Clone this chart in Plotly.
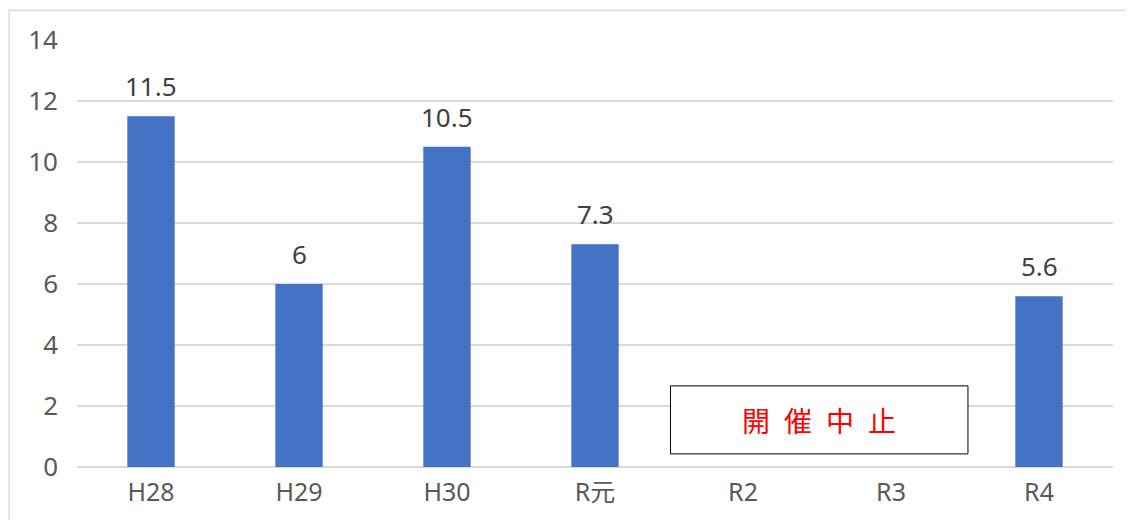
import plotly.graph_objects as go

categories = ["H28", "H29", "H30", "R元", "R2", "R3", "R4"]
values = [11.5, 6, 10.5, 7.3, None, None, 5.6]
y_ticks = [0, 2, 4, 6, 8, 10, 12, 14]
cancel_text = "開\u2002催\u2002中\u2002止"

FONT = "Noto Sans, Noto Sans CJK JP, sans-serif"

fig = go.Figure()
fig.add_trace(go.Bar(
    x=categories, y=values,
    marker=dict(color="#4472C4", line=dict(width=0)),
    width=0.32,
    hoverinfo="x+y",
))

for c, v in zip(categories, values):
    if v is None:
        continue
    fig.add_annotation(
        x=c, y=v, text=f"{v:g}", showarrow=False,
        yanchor="bottom", yshift=10,
        font=dict(family=FONT, size=26, color="#404040"),
    )

# cancellation box spanning R2-R3
fig.add_shape(type="rect", xref="x", yref="y",
              x0=3.51, x1=5.52, y0=0.43, y1=2.66,
              line=dict(color="#000000", width=1), fillcolor="white", layer="above")
fig.add_annotation(x=4.515, y=1.54, xref="x", yref="y", text=cancel_text,
                   showarrow=False, font=dict(family="Noto Sans CJK JP", size=28, color="#FF0000"))

# outer chart border
fig.add_shape(type="rect", xref="paper", yref="paper",
              x0=-0.0655, x1=1.2, y0=-0.3, y1=1.0695,
              line=dict(color="#D9D9D9", width=1.5), fillcolor="rgba(0,0,0,0)", layer="below")

fig.update_layout(
    width=1133, height=520,
    margin=dict(l=69, r=28, t=32, b=61),
    plot_bgcolor="white", paper_bgcolor="white",
    showlegend=False,
    font=dict(family=FONT, size=26, color="#595959"),
)
fig.update_xaxes(
    type="category", categoryorder="array", categoryarray=categories,
    range=[-0.5, 6.5], showgrid=False, showline=False, ticks="",
    ticklabelstandoff=8,
    tickfont=dict(family=FONT, size=25, color="#595959"),
)
fig.update_yaxes(
    range=[0, 14], tickvals=y_ticks, showgrid=True, gridcolor="#D9D9D9", gridwidth=1.5,
    zeroline=True, zerolinecolor="#D9D9D9", zerolinewidth=1.5, showline=False, ticks="",
    ticklabelstandoff=18,
    tickfont=dict(family=FONT, size=26, color="#595959"),
)

fig.write_html("out.html")
